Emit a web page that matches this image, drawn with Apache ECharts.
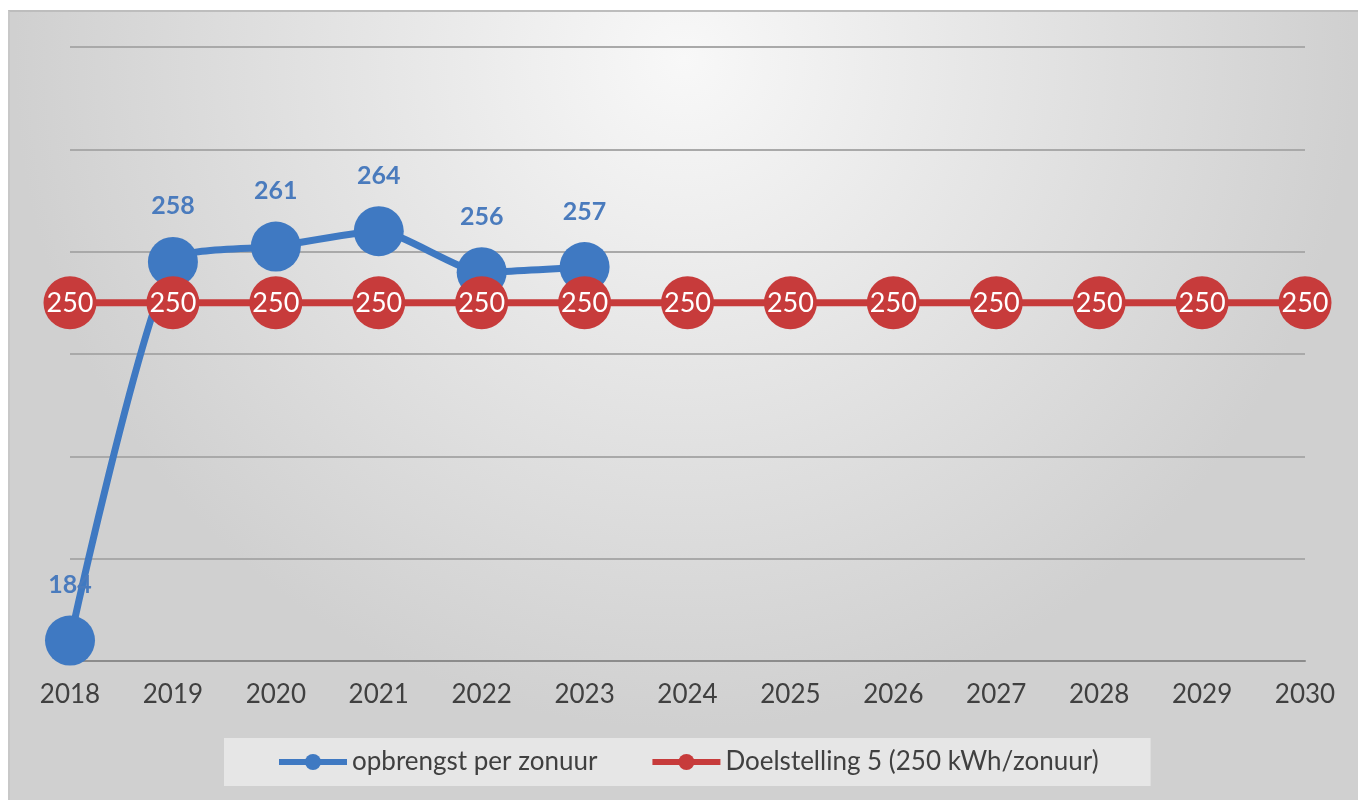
<!DOCTYPE html>
<html>
<head>
<meta charset="utf-8">
<script src="https://cdn.jsdelivr.net/npm/echarts@6/dist/echarts.min.js"></script>
<style>
  html, body { margin: 0; padding: 0; background: #ffffff; width: 1358px; height: 800px; overflow: hidden; }
  #chart { position: absolute; left: 8px; top: 10px; width: 1350px; height: 790px;
           border-top: 2px solid #bdbdbd; border-left: 2px solid #c8c8c8; box-sizing: border-box; }
</style>
</head>
<body>
<div id="chart"></div>
<script>
// Years on the horizontal axis
const years = ['2018', '2019', '2020', '2021', '2022', '2023', '2024', '2025', '2026', '2027', '2028', '2029', '2030'];
// Yield per sun hour (kWh), measured years only
const opbrengst = [184, 258, 261, 264, 256, 257];
// Target line: 250 kWh per sun hour
const doelstelling = [250, 250, 250, 250, 250, 250, 250, 250, 250, 250, 250, 250, 250];

const seriesNames = ['opbrengst per zonuur', 'Doelstelling 5 (250 kWh/zonuur)'];
const BLUE = '#3f79c2';
const RED = '#c73b3b';
const FONT = 'Lato';

const chart = echarts.init(document.getElementById('chart'), null, { renderer: 'canvas' });

chart.setOption({
  backgroundColor: {
    type: 'radial', x: 0.5, y: 0.06, r: 0.85,
    colorStops: [
      { offset: 0, color: '#f8f8f8' },
      { offset: 0.5, color: '#e4e4e4' },
      { offset: 1, color: '#d0d0d0' }
    ]
  },
  textStyle: { fontFamily: FONT },
  animation: false,
  grid: { left: 60, right: 53, top: 35, bottom: 139, containLabel: false },
  xAxis: {
    type: 'category',
    data: years,
    boundaryGap: false,
    axisLine: { show: true, lineStyle: { color: '#8c8c8c', width: 2 } },
    axisTick: { show: false },
    axisLabel: { color: '#404040', fontSize: 26, fontFamily: FONT, margin: 21 },
    splitLine: { show: false }
  },
  yAxis: {
    type: 'value',
    min: 180, max: 300, interval: 20,
    axisLine: { show: false },
    axisTick: { show: false },
    axisLabel: { show: false },
    splitLine: { show: true, lineStyle: { color: '#a9a9a9', width: 2 } }
  },
  legend: {
    bottom: 14,
    left: 214,
    backgroundColor: '#e6e6e6',
    padding: [11, 52, 11, 52],
    itemGap: 52,
    itemWidth: 68,
    itemHeight: 20,
    lineStyle: { width: 6 },
    textStyle: { color: '#404040', fontSize: 26, fontFamily: FONT },
    data: seriesNames
  },
  series: [
    {
      name: seriesNames[0],
      type: 'line',
      data: opbrengst,
      smooth: 0.2,
      symbol: 'circle',
      symbolSize: 50,
      z: 2,
      lineStyle: { color: BLUE, width: 7 },
      itemStyle: { color: BLUE },
      label: {
        show: true, position: 'top', distance: 18,
        color: '#4a7bbd', fontSize: 25, fontWeight: 'bold', fontFamily: FONT
      }
    },
    {
      name: seriesNames[1],
      type: 'line',
      data: doelstelling,
      symbol: 'circle',
      symbolSize: 53,
      z: 3,
      lineStyle: { color: RED, width: 7 },
      itemStyle: { color: RED },
      label: {
        show: true, position: 'inside',
        color: '#ffffff', fontSize: 27, fontFamily: FONT
      }
    }
  ]
});
</script>
</body>
</html>
